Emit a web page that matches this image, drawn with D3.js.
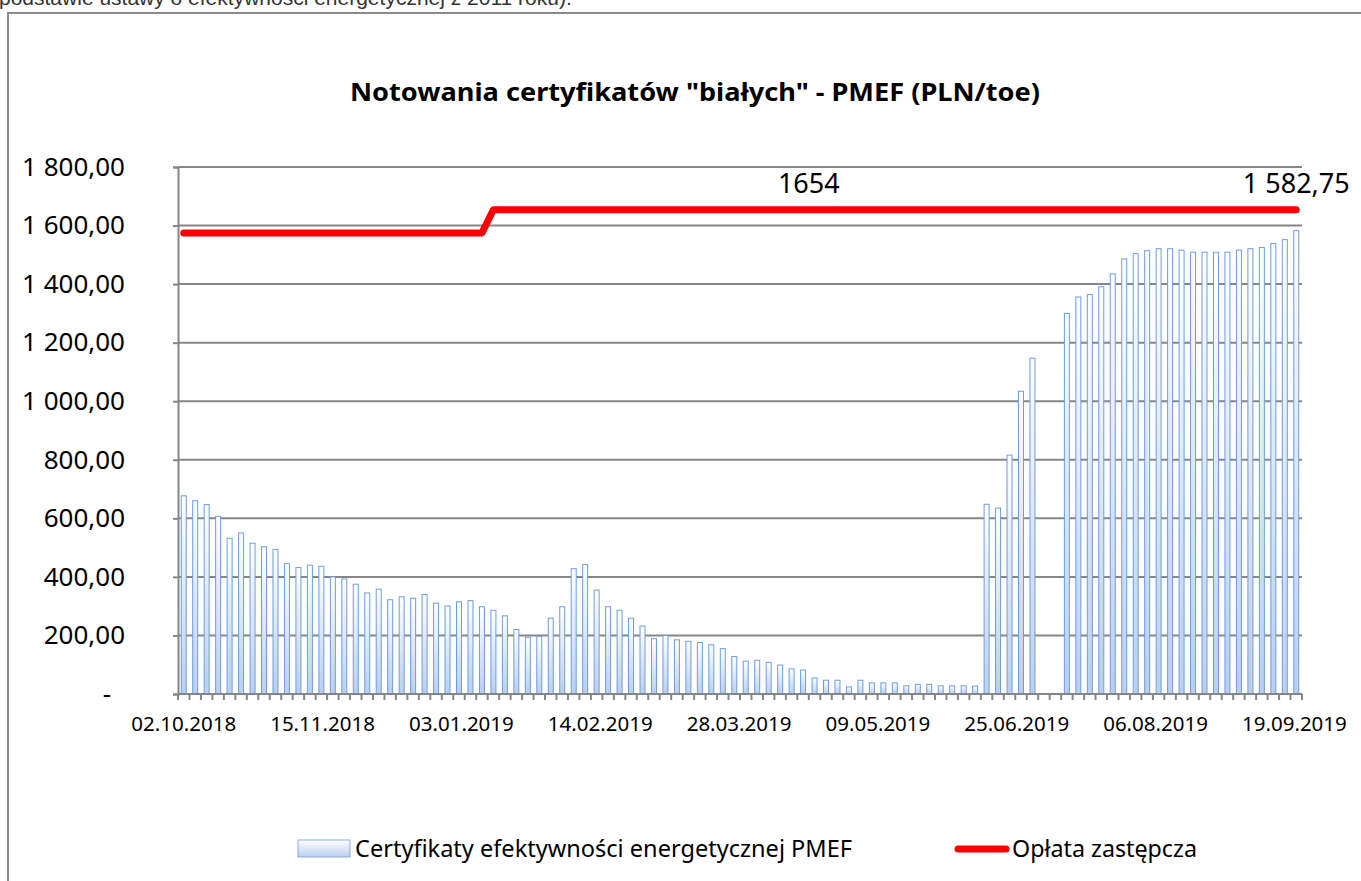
<!DOCTYPE html>
<html><head><meta charset="utf-8">
<script src="https://cdn.jsdelivr.net/npm/d3@7"></script>
<style>body{margin:0;background:#fff;} svg{display:block;}</style>
</head><body>
<svg id="c" width="1361" height="881"></svg>
<script>
// ---------- DATA ----------
const barValues = [
  677, 660, 647, 607, 532, 550, 515, 503, 494, 445,
  432, 440, 436, 400, 393, 375, 345, 358, 322, 332,
  327, 340, 310, 301, 315, 319, 298, 286, 267, 220,
  194, 197, 259, 298, 428, 442, 355, 298, 286, 259,
  232, 189, 200, 185, 180, 176, 168, 155, 128, 112,
  115, 108, 99, 86, 82, 55, 47, 47, 24, 47,
  38, 38, 38, 28, 33, 33, 28, 28, 28, 27,
  648, 635, 816, 1034, 1147, null, null, 1300, 1356, 1365,
  1391, 1435, 1486, 1504, 1514, 1521, 1521, 1516, 1509, 1509,
  1509, 1509, 1516, 1521, 1525, 1539, 1552, 1582.75
];
const feeValues = [
  1575, 1575, 1575, 1575, 1575, 1575, 1575, 1575, 1575, 1575,
  1575, 1575, 1575, 1575, 1575, 1575, 1575, 1575, 1575, 1575,
  1575, 1575, 1575, 1575, 1575, 1575, 1575, 1654, 1654, 1654,
  1654, 1654, 1654, 1654, 1654, 1654, 1654, 1654, 1654, 1654,
  1654, 1654, 1654, 1654, 1654, 1654, 1654, 1654, 1654, 1654,
  1654, 1654, 1654, 1654, 1654, 1654, 1654, 1654, 1654, 1654,
  1654, 1654, 1654, 1654, 1654, 1654, 1654, 1654, 1654, 1654,
  1654, 1654, 1654, 1654, 1654, 1654, 1654, 1654, 1654, 1654,
  1654, 1654, 1654, 1654, 1654, 1654, 1654, 1654, 1654, 1654,
  1654, 1654, 1654, 1654, 1654, 1654, 1654, 1654
];
const xTickLabels = ["02.10.2018","15.11.2018","03.01.2019","14.02.2019","28.03.2019","09.05.2019","25.06.2019","06.08.2019","19.09.2019"];
const xLabelEvery = 12;
const yTicks = [0, 200, 400, 600, 800, 1000, 1200, 1400, 1600, 1800];
const seriesNames = ["Certyfikaty efektywności energetycznej PMEF", "Opłata zastępcza"];
const titleText = 'Notowania certyfikatów "białych" - PMEF (PLN/toe)';
const topNote = "podstawie ustawy o efektywności energetycznej z 2011 roku).";
const annotations = [
  {text: "1654", index: 54.5, value: 1654},
  {text: "1 582,75", index: 97, value: 1654}
];

// ---------- CHART ----------
const svg = d3.select("#c");
const FONT = "'Noto Sans', 'Open Sans', sans-serif";
const plot = {left: 178, right: 1302, top: 167, bottom: 694};
const GRID = "#868686";

const idx = barValues.map((d, i) => i);
const x = d3.scaleBand().domain(idx).range([plot.left, plot.right]).padding(0);
const xc = i => plot.left + (i + 0.5) * x.step();
const y = d3.scaleLinear().domain([0, 1800]).range([plot.bottom, plot.top]);

const defs = svg.append("defs");
const grad = defs.append("linearGradient").attr("id", "barGrad")
  .attr("x1", 0).attr("y1", 0).attr("x2", 0).attr("y2", 1);
grad.append("stop").attr("offset", "0%").attr("stop-color", "#ffffff");
grad.append("stop").attr("offset", "100%").attr("stop-color", "#bacfee");

// top cropped note text (cut off in the reference as well)
svg.append("text").attr("x", -1).attr("y", 5)
  .attr("font-family", "'Liberation Sans', Arial, sans-serif").attr("font-size", 21)
  .attr("fill", "#333").text(topNote);

// chart border
svg.append("rect").attr("x", 8).attr("y", 13).attr("width", 1400).attr("height", 900)
  .attr("fill", "none").attr("stroke", "#8a8a8a").attr("stroke-width", 2);

// title
svg.append("text").attr("x", 695).attr("y", 101).attr("text-anchor", "middle")
  .attr("font-family", FONT).attr("font-weight", "bold").attr("font-size", 25)
  .attr("textLength", 690).attr("lengthAdjust", "spacingAndGlyphs")
  .attr("fill", "#000").text(titleText);

// gridlines
svg.append("g").selectAll("line").data(yTicks.filter(d => d > 0)).join("line")
  .attr("x1", plot.left).attr("x2", plot.right)
  .attr("y1", d => y(d)).attr("y2", d => y(d))
  .attr("stroke", GRID).attr("stroke-width", 2);

// y axis
const fmtLocale = d3.formatLocale({decimal: ",", thousands: " ", grouping: [3], currency: ["", ""]});
const fmt = fmtLocale.format(",.2f");
const yAxis = svg.append("g").attr("transform", `translate(${plot.left},0)`)
  .call(d3.axisLeft(y).tickValues(yTicks).tickSize(5).tickPadding(48)
    .tickFormat(d => d === 0 ? "-" : fmt(d)));
yAxis.select(".domain").attr("stroke", GRID).attr("stroke-width", 2);
yAxis.selectAll(".tick line").attr("stroke", GRID).attr("stroke-width", 2);
yAxis.selectAll(".tick text").attr("font-family", FONT).attr("font-size", 26).attr("fill", "#000")
  .attr("dx", d => d === 0 ? -14 : 0);

// bars
svg.append("g").selectAll("rect").data(idx.filter(i => barValues[i] != null)).join("rect")
  .attr("x", i => xc(i) - 2.5).attr("width", 5)
  .attr("y", i => y(barValues[i])).attr("height", i => y(0) - y(barValues[i]))
  .attr("fill", "url(#barGrad)").attr("stroke", "#6c9de2").attr("stroke-width", 1);

// x axis line + category boundary ticks
svg.append("line").attr("x1", plot.left).attr("x2", plot.right)
  .attr("y1", plot.bottom).attr("y2", plot.bottom).attr("stroke", GRID).attr("stroke-width", 2);
const bounds = idx.map(i => x(i)).concat([plot.right]);
svg.append("g").selectAll("line").data(bounds).join("line")
  .attr("x1", d => d).attr("x2", d => d).attr("y1", plot.bottom).attr("y2", plot.bottom + 6)
  .attr("stroke", GRID).attr("stroke-width", 2);

// x labels
svg.append("g").selectAll("text").data(xTickLabels).join("text")
  .attr("x", (d, k) => xc(k * xLabelEvery) + k * 1.2).attr("y", 731).attr("text-anchor", "middle")
  .attr("font-family", FONT).attr("font-size", 20.5).attr("fill", "#000").text(d => d);

// fee line
const line = d3.line().x((d, i) => xc(i)).y(d => y(d));
svg.append("path").datum(feeValues).attr("d", line)
  .attr("fill", "none").attr("stroke", "#ff0000").attr("stroke-width", 7)
  .attr("stroke-linecap", "round").attr("stroke-linejoin", "round");

// annotations
svg.append("g").selectAll("text").data(annotations).join("text")
  .attr("x", d => xc(d.index)).attr("y", d => y(d.value) - 17).attr("text-anchor", "middle")
  .attr("font-family", FONT).attr("font-size", 27).attr("fill", "#000").text(d => d.text);

// legend
const lg = svg.append("g");
lg.append("rect").attr("x", 298).attr("y", 840).attr("width", 52).attr("height", 17)
  .attr("fill", "url(#barGrad)").attr("stroke", "#8fa9d6").attr("stroke-width", 1);
lg.append("text").attr("x", 355).attr("y", 857).attr("font-family", FONT).attr("font-size", 23)
  .attr("textLength", 497).attr("lengthAdjust", "spacingAndGlyphs")
  .attr("fill", "#000").text(seriesNames[0]);
lg.append("line").attr("x1", 958).attr("x2", 1006).attr("y1", 849).attr("y2", 849)
  .attr("stroke", "#ff0000").attr("stroke-width", 7).attr("stroke-linecap", "round");
lg.append("text").attr("x", 1012).attr("y", 857).attr("font-family", FONT).attr("font-size", 23)
  .attr("textLength", 185).attr("lengthAdjust", "spacingAndGlyphs")
  .attr("fill", "#000").text(seriesNames[1]);
</script>
</body></html>
